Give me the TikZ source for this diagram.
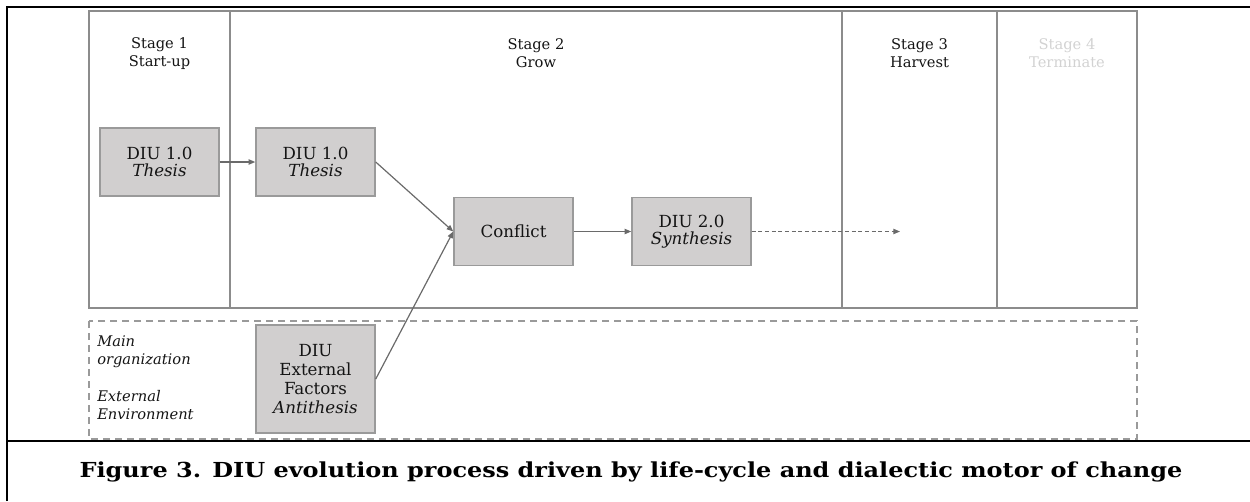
\documentclass[tikz,border=0pt]{standalone}
\usepackage{fontspec}
\usepackage{graphicx}
\setmainfont{DejaVu Serif}
\usetikzlibrary{arrows.meta}
\definecolor{frameline}{HTML}{8C8C8C}
\definecolor{boxline}{HTML}{9A9A9A}
\definecolor{boxfill}{HTML}{D1CFCF}
\definecolor{arrowgray}{HTML}{6A6A6A}
\definecolor{txt}{HTML}{141414}
\definecolor{faint}{HTML}{D2D2D2}
\tikzset{
  stagebox/.style={draw=frameline, line width=1.5pt},
  stagetxt/.style={inner sep=0pt, align=center, text=txt, font=\fontsize{11}{13.5}\selectfont},
  dibox/.style={draw=boxline, fill=boxfill, line width=1.1pt, minimum width=89.25pt,
     minimum height=51pt, inner sep=0pt, align=center, text=txt,
     font=\fontsize{12.5}{13.2}\selectfont},
  sidetxt/.style={inner sep=0pt, align=left, text=txt, font=\itshape\fontsize{11}{13.5}\selectfont},
  arr/.style={draw=arrowgray, line width=0.9pt, -{Triangle[length=5pt,width=4pt]}},
  envbox/.style={draw=boxline, line width=1.5pt, dash pattern=on 5.25pt off 3.75pt},
  blackline/.style={draw=black, line width=2.2pt}
}
\begin{document}
\begin{tikzpicture}[x=0.75pt,y=-0.75pt]
\useasboundingbox (0,0) rectangle (1250,501);
% outer black rules
\draw[blackline] (7,501) -- (7,7) -- (1250,7);
\draw[blackline] (7,441) -- (1250,441);
% stage frame
\draw[stagebox] (89,11) rectangle (1137,308);
\draw[stagebox] (230,11) -- (230,308);
\draw[stagebox] (842,11) -- (842,308);
\draw[stagebox] (997,11) -- (997,308);
% environment dashed box
\draw[envbox] (89,321) rectangle (1137,439);
% stage labels
\node[stagetxt] (st1) at (159.5,54) {Stage 1\\Start-up};
\node[stagetxt] (st2) at (536,53) {Stage 2\\Grow};
\node[stagetxt] (st3) at (919.5,53) {Stage 3\\Harvest};
\node[stagetxt, text=faint] (st4) at (1067,53) {Stage 4\\Terminate};
% side labels
\node[sidetxt, anchor=north west] (mainorg) at (97,335) {Main\\organization};
\node[sidetxt, anchor=north west] (extenv) at (97,390) {External\\Environment};
% boxes
\node[dibox] (t1) at (159.5,162) {DIU 1.0\\\textit{Thesis}};
\node[dibox] (t2) at (315.5,162) {DIU 1.0\\\textit{Thesis}};
\node[dibox] (cf) at (513.5,231.5) {Conflict};
\node[dibox] (sy) at (691.5,231.5) {DIU 2.0\\\textit{Synthesis}};
\node[dibox, minimum height=81pt, font=\fontsize{12.5}{14.2}\selectfont] (ex) at (315.5,379) {DIU\\External\\Factors\\\textit{Antithesis}};
\coordinate (harv) at (900,231.5);
% connectors
\draw[arr] (t1.east) -- (t2.west);
\draw[arr] (t2.east) -- (cf.west);
\draw[arr] (ex.east) -- (cf.west);
\draw[arr] (cf.east) -- (sy.west);
\draw[arr, dash pattern=on 3pt off 2pt] (sy.east) -- (harv);
% caption
\node[inner sep=0pt, text=black, font=\bfseries\fontsize{15.5}{18}\selectfont] (cap) at (631,472) {\scalebox{1.16}[1]{Figure 3. DIU evolution process driven by life-cycle and dialectic motor of change}};
\end{tikzpicture}
\end{document}
